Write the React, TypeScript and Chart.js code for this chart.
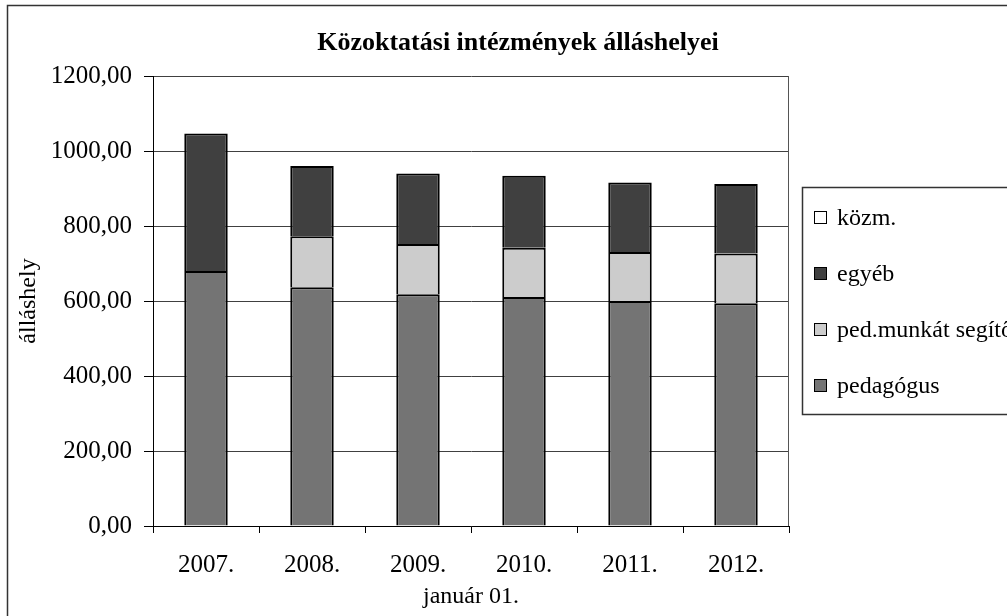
import { useEffect, useRef } from 'react';
import { Chart, registerables } from 'chart.js';

Chart.register(...registerables);

const TITLE = 'Közoktatási intézmények álláshelyei';
const Y_TITLE = 'álláshely';
const X_TITLE = 'január 01.';
const CATEGORIES = ['2007.', '2008.', '2009.', '2010.', '2011.', '2012.'];
const PEDAGOGUS = [680, 637, 618, 611, 600, 594];
const SEGITO = [null, 136, 134, 131, 131, 133];
const EGYEB = [367, 187, 188, 192, 185, 185];
const KOZM = [0, 0, 0, 0, 0, 0];
const SERIES_LABELS = ['pedagógus', 'ped.munkát segítő', 'egyéb', 'közm.'];
const SERIES_COLORS = ['#747474', '#cccccc', '#404040', '#ffffff'];
const Y_MIN = 0;
const Y_MAX = 1200;
const Y_STEP = 200;

const FONT = "'Liberation Serif', 'Times New Roman', serif";

const decor = {
  id: 'decor',
  beforeDraw(chart: any) {
    const { ctx, width, height } = chart;
    ctx.save();
    ctx.fillStyle = '#ffffff';
    ctx.fillRect(0, 0, width, height);
    ctx.restore();
  },
  afterDraw(chart: any) {
    const { ctx, chartArea } = chart;
    ctx.save();
    // outer chart border
    ctx.strokeStyle = '#333333';
    ctx.lineWidth = 1.5;
    ctx.strokeRect(7.5, 5.5, 1100, 700);
    // plot area right border
    ctx.strokeStyle = '#555555';
    ctx.lineWidth = 1;
    ctx.beginPath();
    ctx.moveTo(Math.round(chartArea.right) - 0.5, chartArea.top);
    ctx.lineTo(Math.round(chartArea.right) - 0.5, chartArea.bottom);
    ctx.stroke();
    // title
    ctx.fillStyle = '#000000';
    ctx.font = `bold 26px ${FONT}`;
    ctx.textAlign = 'center';
    ctx.textBaseline = 'middle';
    ctx.fillText(TITLE, 518, 43);
    // legend
    ctx.strokeStyle = '#333333';
    ctx.lineWidth = 1.5;
    ctx.strokeRect(802.5, 187.5, 400, 227);
    const ds = chart.data.datasets;
    ctx.font = `24px ${FONT}`;
    ctx.textAlign = 'left';
    ctx.textBaseline = 'alphabetic';
    for (let i = 0; i < ds.length; i++) {
      const d = ds[ds.length - 1 - i];
      const cy = 217.5 + i * 56;
      ctx.fillStyle = d.backgroundColor;
      ctx.fillRect(814, cy - 6.5, 13, 13);
      ctx.strokeStyle = '#000000';
      ctx.lineWidth = 1;
      ctx.strokeRect(814.5, cy - 6, 12, 12);
      ctx.fillStyle = '#000000';
      ctx.fillText(d.label, 837, cy + 7.5);
    }
    ctx.restore();
  },
};

export default function App() {
  const ref = useRef<HTMLCanvasElement | null>(null);

  useEffect(() => {
    if (!ref.current) return;
    const values = [PEDAGOGUS, SEGITO, EGYEB, KOZM];
    const chart = new Chart(ref.current, {
      type: 'bar',
      data: {
        labels: CATEGORIES,
        datasets: values.map((v, i) => ({
          label: SERIES_LABELS[i],
          data: v,
          backgroundColor: SERIES_COLORS[i],
          borderColor: '#000000',
          borderWidth: i === 3 ? 0 : 2,
          barPercentage: 0.41,
          categoryPercentage: 1,
        })),
      },
      options: {
        responsive: false,
        animation: false,
        layout: { padding: { left: 0, right: 218, top: 76, bottom: 0 } },
        plugins: {
          legend: { display: false },
          title: { display: false },
          tooltip: { enabled: false },
        },
        scales: {
          x: {
            stacked: true,
            afterFit: (axis: any) => {
              axis.height = 90;
            },
            grid: {
              drawOnChartArea: false,
              drawTicks: true,
              tickLength: 7,
              tickColor: '#000000',
            },
            border: { color: '#000000', width: 1 },
            ticks: {
              color: '#000000',
              padding: 17,
              font: { family: FONT, size: 25 },
            },
            title: {
              display: true,
              text: X_TITLE,
              color: '#000000',
              font: { family: FONT, size: 24 },
              padding: { top: 0, bottom: 5 },
            },
          },
          y: {
            stacked: true,
            min: Y_MIN,
            max: Y_MAX,
            afterFit: (axis: any) => {
              axis.width = 153;
            },
            grid: {
              color: '#404040',
              lineWidth: 1,
              drawTicks: true,
              tickLength: 9,
              tickColor: '#000000',
            },
            border: { color: '#000000', width: 1 },
            ticks: {
              stepSize: Y_STEP,
              color: '#000000',
              padding: 12,
              font: { family: FONT, size: 25 },
              callback: (v: any) => Number(v).toFixed(2).replace('.', ','),
            },
            title: {
              display: true,
              text: Y_TITLE,
              color: '#000000',
              font: { family: FONT, size: 24 },
              padding: { top: 14, bottom: 0 },
            },
          },
        },
      },
      plugins: [decor],
    });
    return () => chart.destroy();
  }, []);

  return (
    <div style={{ position: 'absolute', left: 0, top: 0, width: 1007, height: 616 }}>
      <canvas ref={ref} width={1007} height={616} style={{ display: 'block' }} />
    </div>
  );
}
